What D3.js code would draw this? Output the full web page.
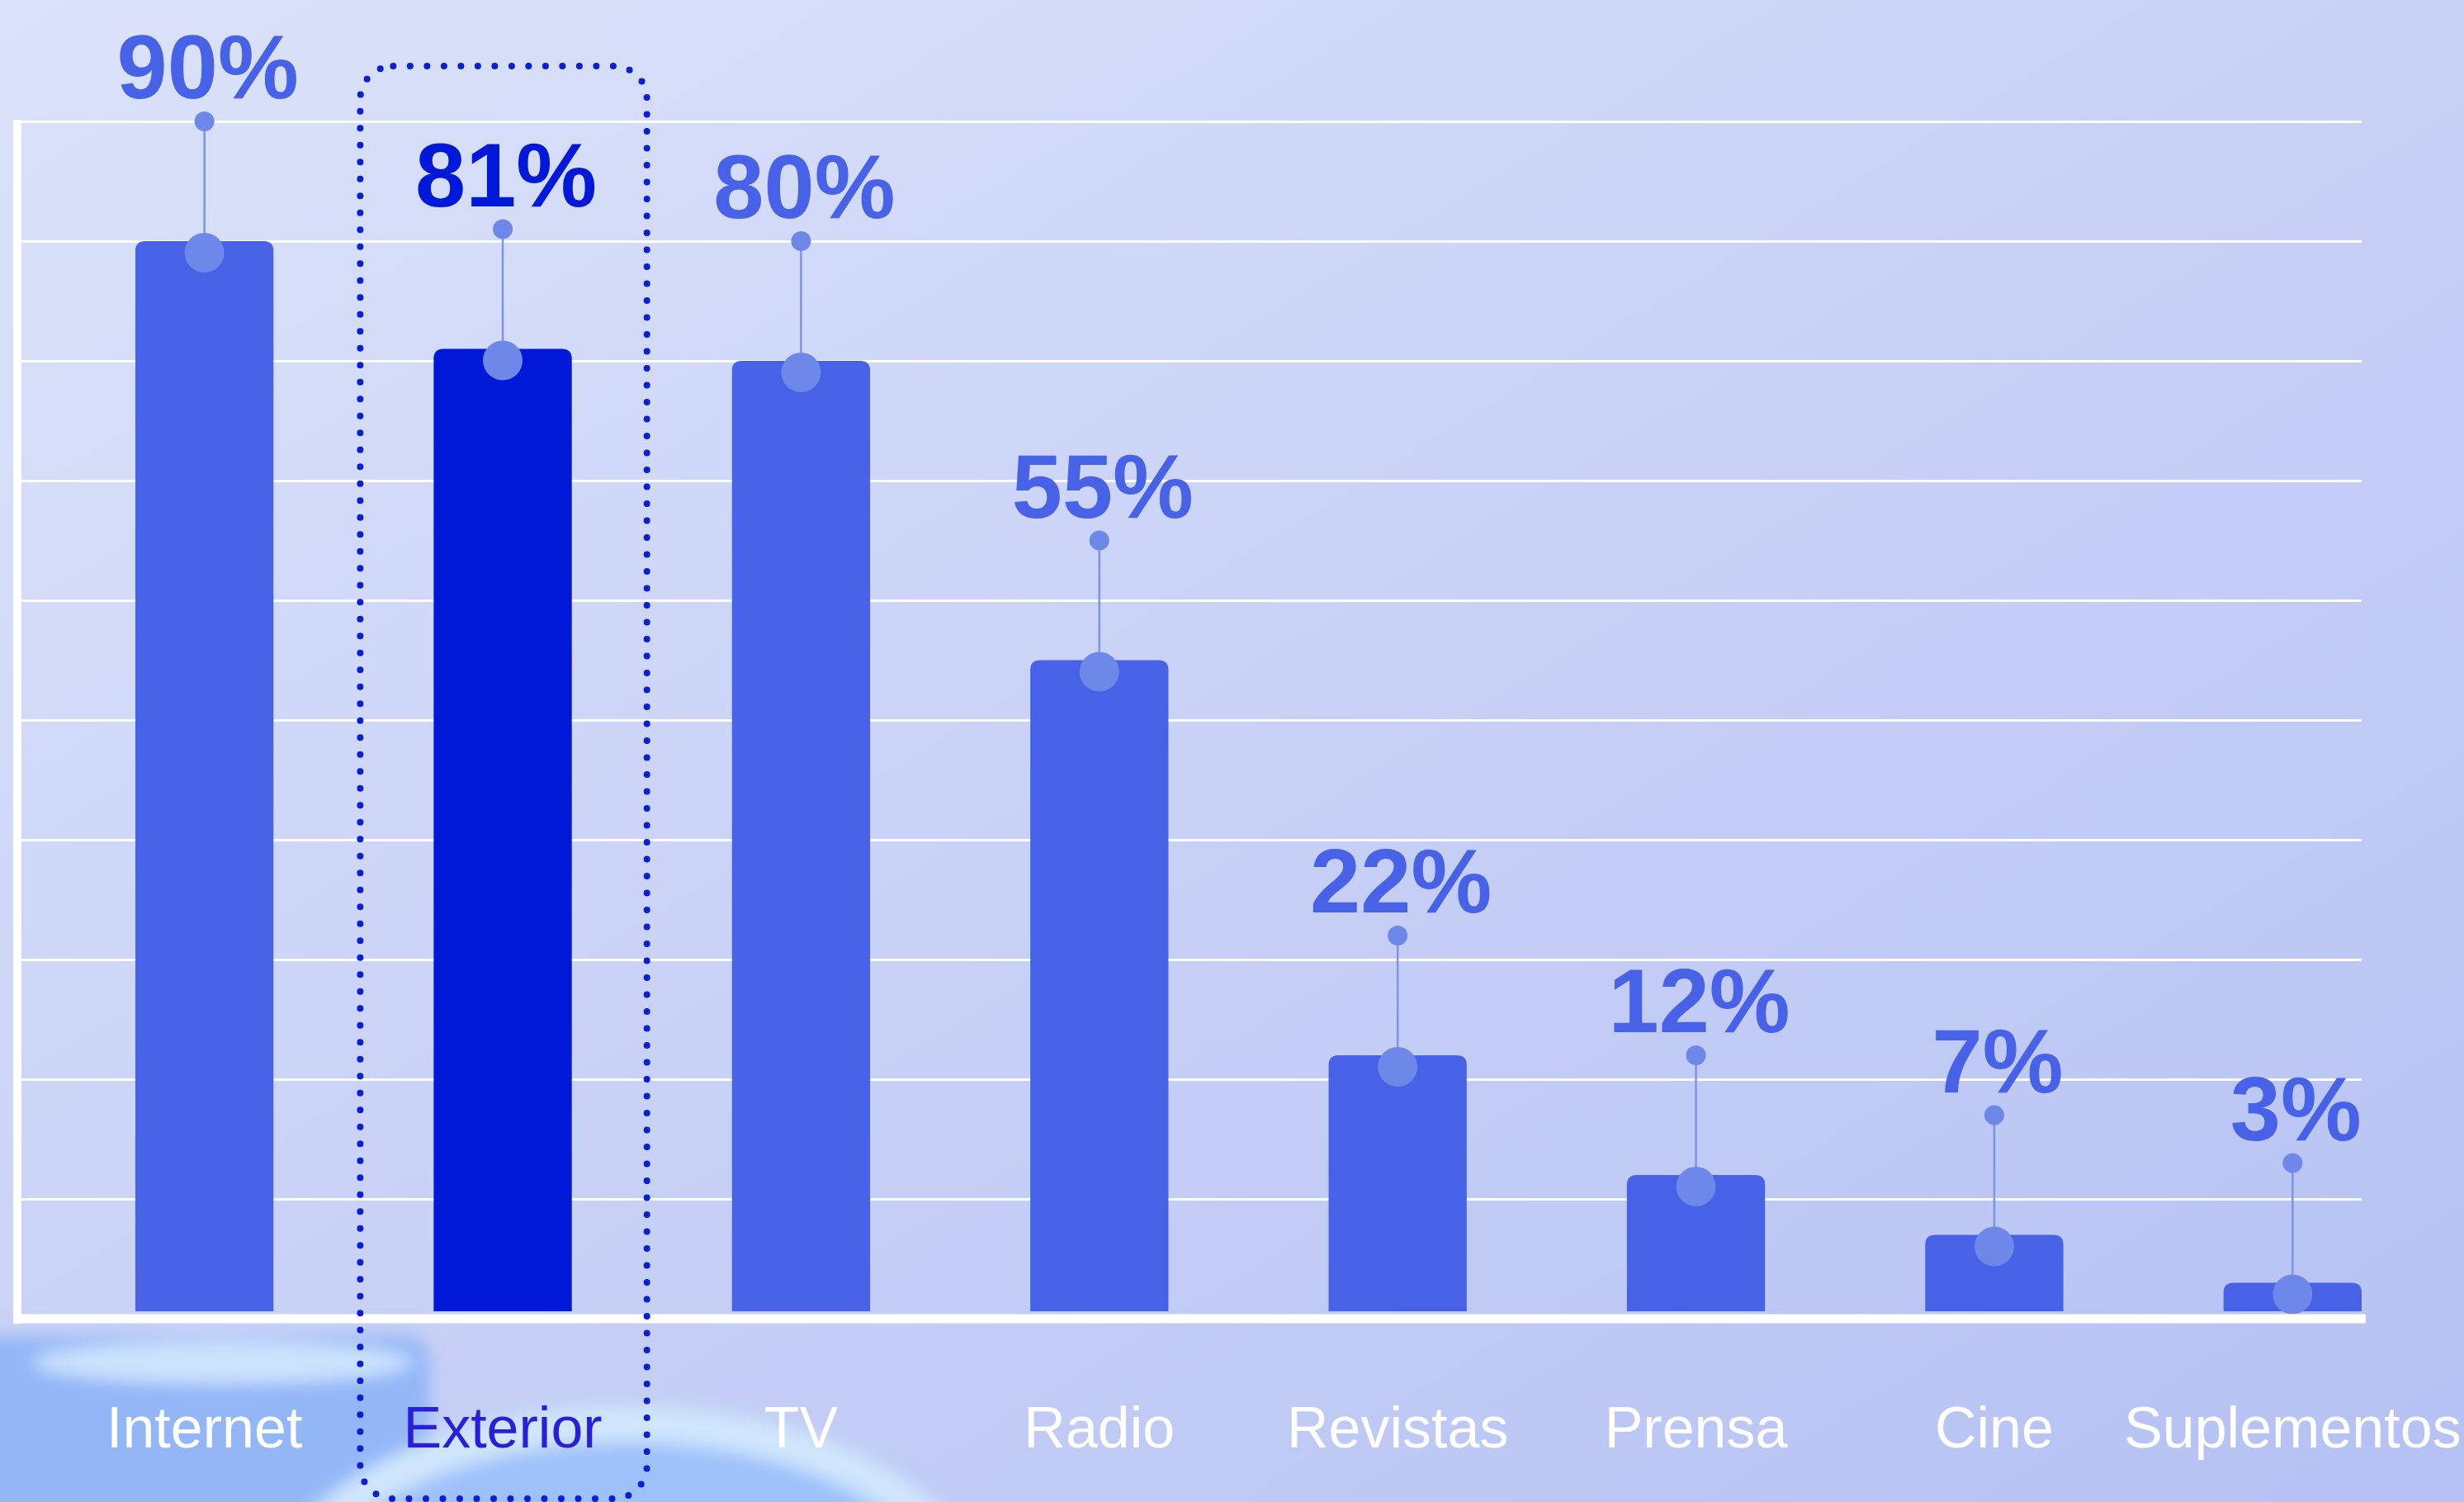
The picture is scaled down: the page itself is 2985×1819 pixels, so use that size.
<!DOCTYPE html>
<html>
<head>
<meta charset="utf-8">
<script src="https://cdn.jsdelivr.net/npm/d3@7"></script>
<style>
  body { margin: 0; background: #cfd7f7; }
  svg { display: block; }
  .grid line { stroke: #ffffff; stroke-width: 3; }
  .grid .domain { display: none; }
  .cats .domain { display: none; }
</style>
</head>
<body>
<svg id="chart" width="2985" height="1819"></svg>
<script>
"use strict";

const categories = ["Internet", "Exterior", "TV", "Radio", "Revistas", "Prensa", "Cine", "Suplementos"];
const values = [90, 81, 80, 55, 22, 12, 7, 3];
const valueLabels = ["90%", "81%", "80%", "55%", "22%", "12%", "7%", "3%"];
const gridTicks = [10, 20, 30, 40, 50, 60, 70, 80, 90, 100];
const highlighted = "Exterior";

const W = 2985, H = 1819;
const left = 21, right = 2861;
const stem = 10; // leader length, in value units

const svg = d3.select("#chart");
const defs = svg.append("defs");

const bg = defs.append("linearGradient")
    .attr("id", "bg")
    .attr("x1", "0").attr("y1", "0")
    .attr("x2", "1").attr("y2", "1");
bg.append("stop").attr("offset", "0").attr("stop-color", "#dbe2f9");
bg.append("stop").attr("offset", "0.55").attr("stop-color", "#c6d0f6");
bg.append("stop").attr("offset", "1").attr("stop-color", "#b5c1f3");

defs.append("filter").attr("id", "blur")
    .attr("x", "-20%").attr("y", "-20%").attr("width", "140%").attr("height", "140%")
    .append("feGaussianBlur").attr("stdDeviation", 10);

svg.append("rect").attr("width", W).attr("height", H).attr("fill", "url(#bg)");

// blurry photo shapes bottom-left
const blob = svg.append("g").attr("filter", "url(#blur)");
blob.append("rect")
    .attr("x", -40).attr("y", 1618).attr("width", 560).attr("height", 260)
    .attr("rx", 30)
    .attr("fill", "#93b6f7");
blob.append("ellipse")
    .attr("cx", 270).attr("cy", 1650).attr("rx", 230).attr("ry", 26)
    .attr("fill", "#d3e8fd").attr("opacity", 0.9);
blob.append("ellipse")
    .attr("cx", 760).attr("cy", 1975).attr("rx", 430).attr("ry", 250)
    .attr("fill", "#9fc1fa")
    .attr("stroke", "#cfe6fd").attr("stroke-width", 44);

const xScale = d3.scaleBand()
    .domain(categories)
    .range([164, right])
    .paddingInner(0.537)
    .paddingOuter(0);

const yScale = d3.scaleLinear()
    .domain([0, 100])
    .range([1597, 147]);

// horizontal grid
svg.append("g")
    .attr("class", "grid")
    .attr("transform", `translate(${left}, 0)`)
    .call(d3.axisLeft(yScale).tickValues(gridTicks).tickSize(-(right - left)).tickFormat(""));

// left white axis
svg.append("line")
    .attr("x1", left).attr("x2", left)
    .attr("y1", yScale(100) - 2).attr("y2", yScale(0) + 6)
    .attr("stroke", "#ffffff").attr("stroke-width", 10);

const data = categories.map((c, i) => ({ cat: c, value: values[i], label: valueLabels[i] }));
const isHi = (d) => d.cat === highlighted;

const r = 12;
const barPath = (d) => {
    const x0 = xScale(d.cat), x1 = x0 + xScale.bandwidth();
    const y0 = yScale(d.value), yb = yScale(0) - 9;
    return `M${x0},${yb}V${y0 + r}Q${x0},${y0} ${x0 + r},${y0}H${x1 - r}Q${x1},${y0} ${x1},${y0 + r}V${yb}Z`;
};

const bars = svg.append("g").selectAll("g").data(data).enter().append("g");

bars.append("path")
    .attr("d", barPath)
    .attr("fill", (d) => isHi(d) ? "#0018d8" : "#4762e7");

// bottom white axis
svg.append("line")
    .attr("x1", left - 5).attr("x2", right + 5)
    .attr("y1", yScale(0)).attr("y2", yScale(0))
    .attr("stroke", "#ffffff").attr("stroke-width", 11);

const cx = (d) => xScale(d.cat) + xScale.bandwidth() / 2;

bars.append("line")
    .attr("x1", cx).attr("x2", cx)
    .attr("y1", (d) => yScale(d.value) + 14)
    .attr("y2", (d) => yScale(d.value + stem))
    .attr("stroke", "#7d93ea").attr("stroke-width", 2.5);

bars.append("circle")
    .attr("cx", cx)
    .attr("cy", (d) => yScale(d.value) + 14)
    .attr("r", 24)
    .attr("fill", "#6e88e9");

bars.append("circle")
    .attr("cx", cx)
    .attr("cy", (d) => yScale(d.value + stem))
    .attr("r", 12)
    .attr("fill", "#6e88e9");

bars.append("text")
    .attr("x", (d) => cx(d) + 4)
    .attr("y", (d) => yScale(d.value + stem) - 28)
    .attr("text-anchor", "middle")
    .attr("font-family", "'Liberation Sans', Arial, sans-serif")
    .attr("font-weight", "bold")
    .attr("font-size", 110)
    .attr("fill", (d) => isHi(d) ? "#0018d8" : "#4762e7")
    .text((d) => d.label);

// category labels
const cats = svg.append("g")
    .attr("class", "cats")
    .attr("transform", `translate(0, ${yScale(0)})`)
    .call(d3.axisBottom(xScale).tickSize(0));

cats.selectAll("text")
    .attr("y", 156)
    .attr("dy", 0)
    .attr("font-family", "'Liberation Sans', Arial, sans-serif")
    .attr("font-size", 70)
    .attr("fill", (c) => c === highlighted ? "#2a1fd8" : "#ffffff");

// dotted highlight frame
const hx = xScale(highlighted);
svg.append("rect")
    .attr("x", hx - 89)
    .attr("y", 80)
    .attr("width", xScale.bandwidth() + 180)
    .attr("height", 1735)
    .attr("rx", 40)
    .attr("fill", "none")
    .attr("stroke", "#0a1ed8")
    .attr("stroke-width", 8)
    .attr("stroke-linecap", "round")
    .attr("stroke-dasharray", "0 20.5");
</script>
</body>
</html>
